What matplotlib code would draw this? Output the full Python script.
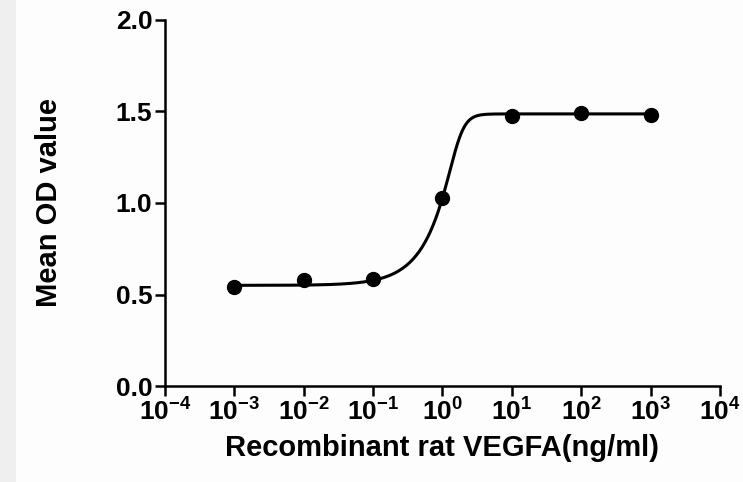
import numpy as np
import matplotlib.pyplot as plt
from matplotlib.patches import Rectangle

plt.rcParams['font.family'] = ['Liberation Sans', 'DejaVu Sans']
plt.rcParams['font.weight'] = 'bold'
plt.rcParams['mathtext.fontset'] = 'custom'
plt.rcParams['mathtext.rm'] = 'Liberation Sans:bold'
plt.rcParams['mathtext.bf'] = 'Liberation Sans:bold'
plt.rcParams['mathtext.it'] = 'Liberation Sans:bold'

# measured points
conc = [1e-3, 1e-2, 1e-1, 1e0, 1e1, 1e2, 1e3]
od = [0.541, 0.579, 0.585, 1.027, 1.472, 1.492, 1.481]

# asymmetric sigmoid fit parameters
bottom = 0.55
top = 1.486
log_mid = 0.228
hill = 5.0
asym = 0.25

xticks = [1e-4, 1e-3, 1e-2, 1e-1, 1e0, 1e1, 1e2, 1e3, 1e4]
xticklabels = [r'$10^{-4}$', r'$10^{-3}$', r'$10^{-2}$', r'$10^{-1}$', r'$10^{0}$',
               r'$10^{1}$', r'$10^{2}$', r'$10^{3}$', r'$10^{4}$']
yticks = [0.0, 0.5, 1.0, 1.5, 2.0]

fig = plt.figure(figsize=(7.43, 4.82), dpi=100, facecolor='#fdfdfd')
fig.patches.append(Rectangle((0, 0), 16 / 743, 1, transform=fig.transFigure,
                             facecolor='#efefef', edgecolor='none', zorder=0))
ax = fig.add_axes([0.222, 0.199, 0.747, 0.760])
ax.set_facecolor('#fdfdfd')

xfit = np.logspace(-3, 3, 600)
yfit = bottom + (top - bottom) / (1 + 10 ** ((log_mid - np.log10(xfit)) * hill)) ** asym
ax.plot(xfit, yfit, color='black', lw=2.2, zorder=2)
ax.plot(conc, od, 'o', color='black', ms=10, zorder=3)

ax.set_xscale('log')
ax.set_xlim(1e-4, 1e4)
ax.set_ylim(0, 2.0)
ax.set_xticks(xticks)
ax.set_xticklabels(xticklabels)
ax.minorticks_off()
ax.set_yticks(yticks)
ax.set_yticklabels(['%.1f' % v for v in yticks])

for s in ['top', 'right']:
    ax.spines[s].set_visible(False)
for s in ['left', 'bottom']:
    ax.spines[s].set_linewidth(1.8)
ax.tick_params(axis='both', width=1.8, length=7, labelsize=19, direction='out', pad=2)

ax.set_ylabel("Mean OD value", fontsize=21, fontweight='bold', labelpad=38)
ax.set_xlabel("Recombinant rat VEGFA(ng/ml)", fontsize=21, fontweight='bold', labelpad=6)

fig.savefig("out.png", dpi=100, facecolor=fig.get_facecolor())
